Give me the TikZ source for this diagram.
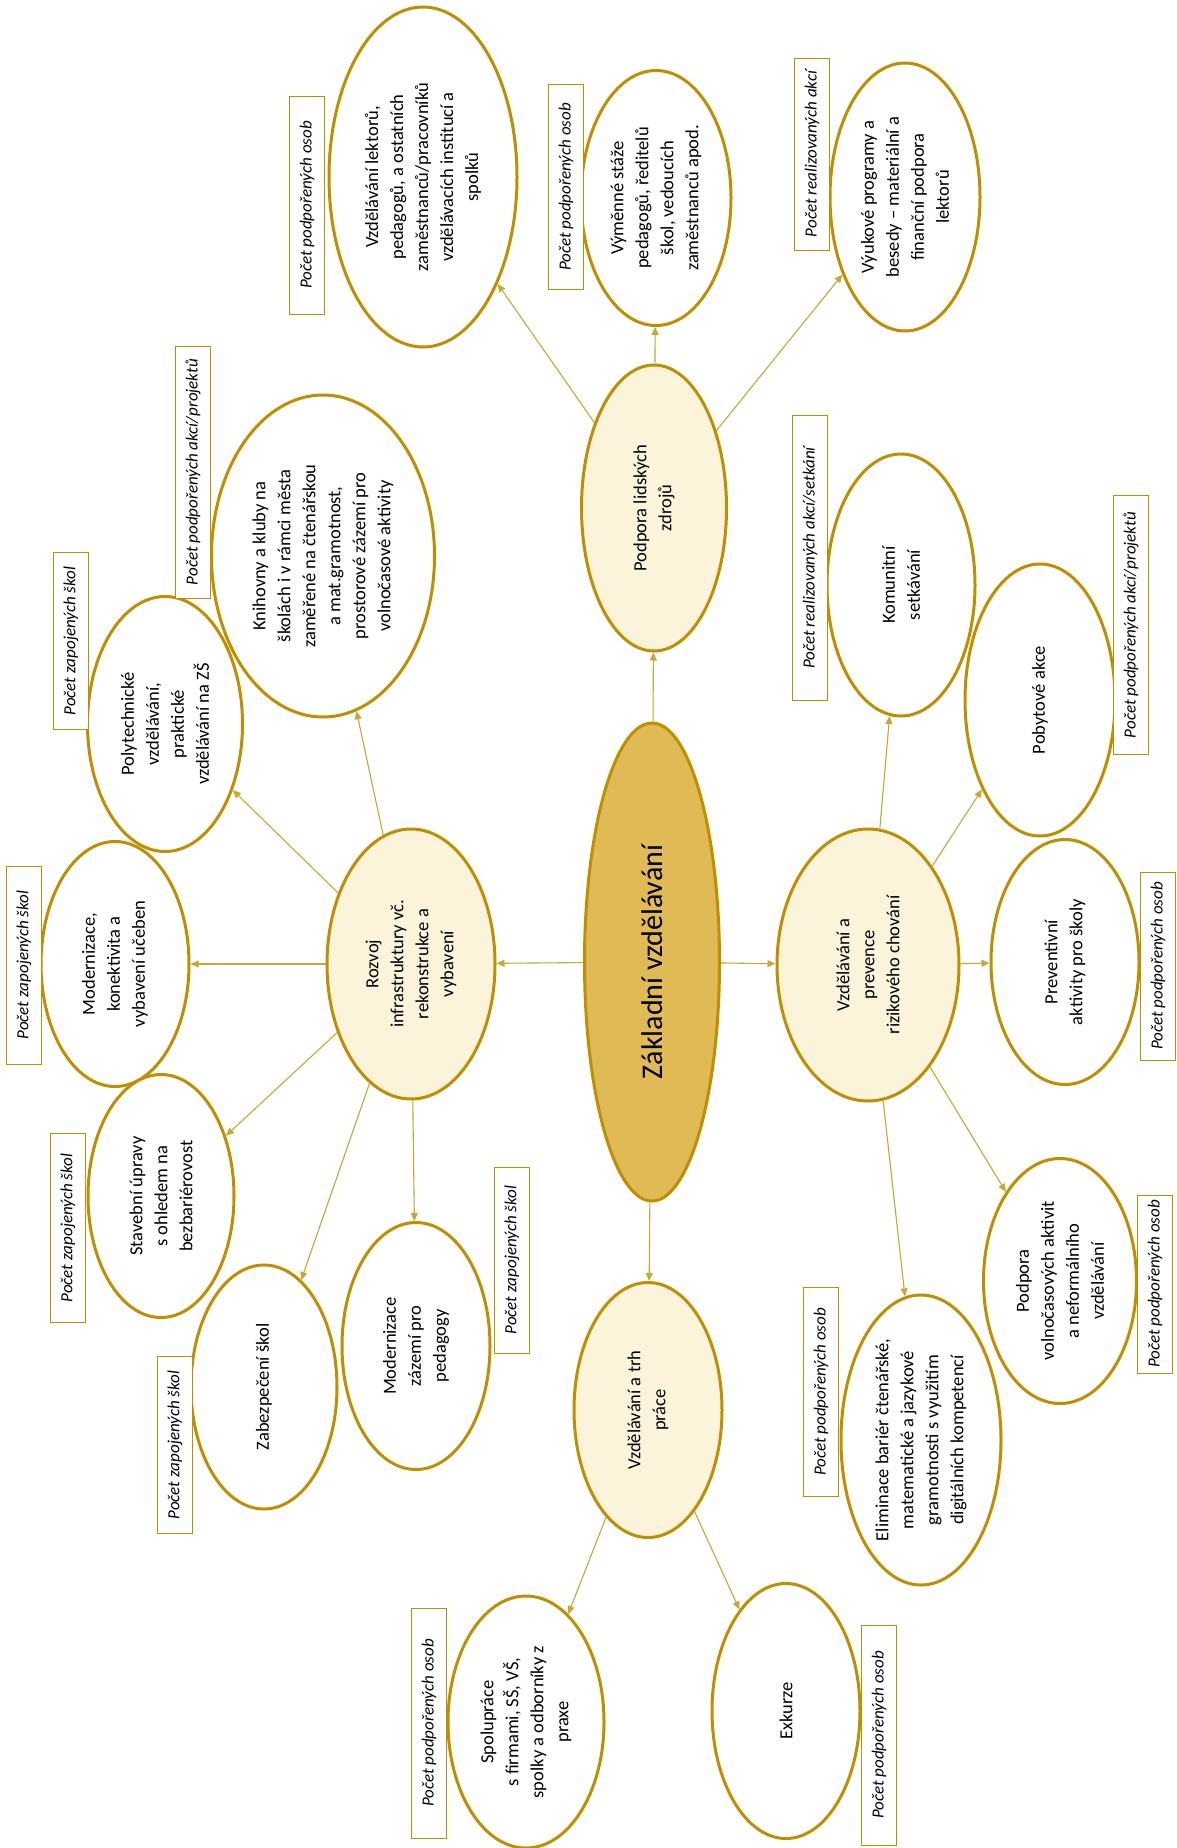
\documentclass[tikz,border=0pt]{standalone}
\usepackage{fontspec}
\setmainfont{Carlito}
\usetikzlibrary{shapes.geometric,arrows.meta}
\definecolor{ringgold}{RGB}{191,143,0}
\definecolor{linkgold}{RGB}{198,168,52}
\definecolor{hubfill}{RGB}{252,244,218}
\definecolor{corefill}{RGB}{224,186,84}
\begin{document}
\begin{tikzpicture}
	[	x=1pt,y=-1pt,
	oval/.style={ellipse,draw=ringgold,line width=3pt,fill=white,rotate=90,inner sep=0pt,align=center,font=\fontsize{18.5}{25}\selectfont},
	hub/.style={oval,fill=hubfill},
	tally/.style={rectangle,draw=ringgold,line width=1pt,fill=white,rotate=90,minimum height=35,inner sep=2pt,font=\itshape\fontsize{17}{20}\selectfont},
	link/.style={draw=linkgold,line width=1.1pt,-{Triangle[length=8pt,width=7pt]}}
	]
	\path[use as bounding box,fill=white] (0,0) rectangle (1177,1848);

	% centre and the four branches
	\node[oval,fill=corefill,minimum width=478,minimum height=135,font=\fontsize{30}{34}\selectfont] (core) at (652,962) {Základní vzdělávání};
	\node[hub,minimum width=286,minimum height=145] (hr) at (654,508) {Podpora lidských\\zdrojů};
	\node[hub,minimum width=270,minimum height=168] (infra) at (411,964) {Rozvoj\\infrastruktury vč.\\rekonstrukce a\\vybavení};
	\node[hub,minimum width=272,minimum height=182] (risk) at (868,965) {Vzdělávání a\\prevence\\rizikového chování};
	\node[hub,minimum width=255,minimum height=148] (labour) at (648,1410) {Vzdělávání a trh\\práce};

	% human resources
	\node[oval,minimum width=340,minimum height=188] (hrTrain) at (423,177) {Vzdělávání lektorů,\\pedagogů, a ostatních\\zaměstnanců/pracovníků\\vzdělávacích institucí a\\spolků};
	\node[oval,minimum width=255,minimum height=150] (hrSwap) at (656,198) {Výměnné stáže\\pedagogů, ředitelů\\škol, vedoucích\\zaměstnanců apod.};
	\node[oval,minimum width=268,minimum height=150] (hrProg) at (905,197) {Výukové programy a\\besedy – materiální a\\finanční podpora\\lektorů};

	% infrastructure
	\node[oval,minimum width=322,minimum height=223] (inLib) at (323,556) {Knihovny a kluby na\\školách i v rámci města\\zaměřené na čtenářskou\\a mat.gramotnost,\\prostorové zázemí pro\\volnočasové aktivity};
	\node[oval,minimum width=255,minimum height=155] (inPoly) at (165,724) {Polytechnické\\vzdělávání,\\praktické\\vzdělávání na ZŠ};
	\node[oval,minimum width=245,minimum height=148] (inRoom) at (115,964) {Modernizace,\\konektivita a\\vybavení učeben};
	\node[oval,minimum width=243,minimum height=146] (inBuild) at (161,1196) {Stavební úpravy\\s ohledem na\\bezbariérovost};
	\node[oval,minimum width=244,minimum height=146] (inSafe) at (264,1387) {Zabezpečení škol};
	\node[oval,minimum width=247,minimum height=148] (inStaff) at (416,1346) {Modernizace\\zázemí pro\\pedagogy};

	% labour market
	\node[oval,minimum width=252,minimum height=156] (lbFirm) at (526,1722) {Spolupráce\\s firmami, SŠ, VŠ,\\spolky a odborníky z\\praxe};
	\node[oval,minimum width=255,minimum height=148] (lbTrip) at (786,1711) {Exkurze};

	% prevention
	\node[oval,minimum width=262,minimum height=148] (rkMeet) at (901,585) {Komunitní\\setkávání};
	\node[oval,minimum width=272,minimum height=150] (rkStay) at (1040,700) {Pobytové akce};
	\node[oval,minimum width=245,minimum height=148] (rkPrev) at (1065,962) {Preventivní\\aktivity pro školy};
	\node[oval,minimum width=245,minimum height=153] (rkFree) at (1060,1281) {Podpora\\volnočasových aktivit\\a neformálního\\vzdělávání};
	\node[oval,minimum width=290,minimum height=160] (rkLit) at (921,1440) {Eliminace bariér čtenářské,\\matematické a jazykové\\gramotnosti s využitím\\digitálních kompetencí};

	% indicator boxes
	\node[tally,minimum width=218] (hrTrainN) at (307,205) {Počet podpořených osob};
	\node[tally,minimum width=205] (hrSwapN) at (566,187) {Počet podpořených osob};
	\node[tally,minimum width=192] (hrProgN) at (812,154) {Počet realizovaných akcí};
	\node[tally,minimum width=252] (inLibN) at (193,472) {Počet podpořených akcí/projektů};
	\node[tally,minimum width=177] (inPolyN) at (71,641) {Počet zapojených škol};
	\node[tally,minimum width=198] (inRoomN) at (24,965) {Počet zapojených škol};
	\node[tally,minimum width=189] (inBuildN) at (68,1228) {Počet zapojených škol};
	\node[tally,minimum width=177] (inSafeN) at (175,1445) {Počet zapojených škol};
	\node[tally,minimum width=186] (inStaffN) at (512,1260) {Počet zapojených škol};
	\node[tally,minimum width=230] (lbFirmN) at (429,1723) {Počet podpořených osob};
	\node[tally,minimum width=220] (lbTripN) at (879,1735) {Počet podpořených osob};
	\node[tally,minimum width=285] (rkMeetN) at (810,558) {Počet realizovaných akcí/setkání};
	\node[tally,minimum width=259] (rkStayN) at (1131,625) {Počet podpořených akcí/projektů};
	\node[tally,minimum width=188] (rkPrevN) at (1158,966) {Počet podpořených osob};
	\node[tally,minimum width=178] (rkFreeN) at (1155,1284) {Počet podpořených osob};
	\node[tally,minimum width=209] (rkLitN) at (821,1392) {Počet podpořených osob};

	% connectors
	\draw[link] (core) -- (hr);
	\draw[link] (core) -- (infra);
	\draw[link] (core) -- (risk);
	\draw[link] (core) -- (labour);
	\draw[link] (hr) -- (hrTrain);
	\draw[link] (hr) -- (hrSwap);
	\draw[link] (hr) -- (hrProg);
	\draw[link] (infra) -- (inLib);
	\draw[link] (infra) -- (inPoly);
	\draw[link] (infra) -- (inRoom);
	\draw[link] (infra) -- (inBuild);
	\draw[link] (infra) -- (inSafe);
	\draw[link] (infra) -- (inStaff);
	\draw[link] (labour) -- (lbFirm);
	\draw[link] (labour) -- (lbTrip);
	\draw[link] (risk) -- (rkMeet);
	\draw[link] (risk) -- (rkStay);
	\draw[link] (risk) -- (rkPrev);
	\draw[link] (risk) -- (rkFree);
	\draw[link] (risk) -- (rkLit);
\end{tikzpicture}
\end{document}
